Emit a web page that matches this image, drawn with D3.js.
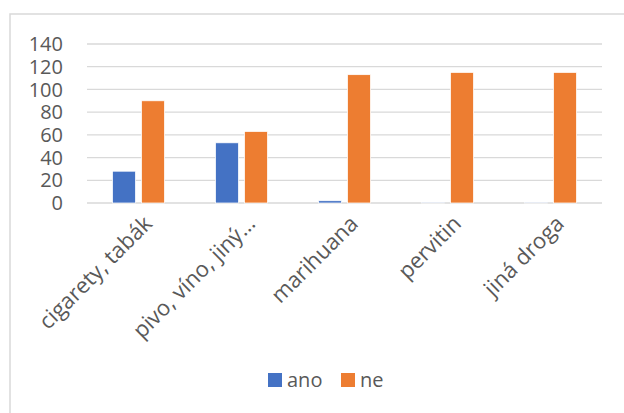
<!DOCTYPE html>
<html>
<head>
<meta charset="utf-8">
<script src="https://cdn.jsdelivr.net/npm/d3@7"></script>
<style>
  body { margin: 0; background: #fff; }
  svg { display: block; font-family: "Open Sans", sans-serif; }
</style>
</head>
<body>
<svg id="chart"></svg>
<script>
// kategorie a hodnoty
const kategorie = ["cigarety, tabák", "pivo, víno, jiný…", "marihuana", "pervitin", "jiná droga"];
const serie = ["ano", "ne"];
const ano = [28, 53, 2, 0.3, 0.3];
const ne = [90, 63, 113, 115, 115];
const tickHodnoty = [0, 20, 40, 60, 80, 100, 120, 140];
const barvy = ["#4472c4", "#ed7d31"];

const width = 624, height = 413;
const svg = d3.select("#chart").attr("width", width).attr("height", height);

// rámeček grafu
svg.append("rect")
  .attr("x", 10).attr("y", 14)
  .attr("width", 700).attr("height", 500)
  .attr("fill", "none")
  .attr("stroke", "#d9d9d9")
  .attr("stroke-width", 1.5);

const plot = { left: 87, right: 602, top: 44, bottom: 203 };

const x = d3.scaleBand()
  .domain(kategorie)
  .range([plot.left, plot.right]);

// dva sloupce uprostřed kategorie
const sirkaSkupiny = 52;
const x1 = d3.scaleBand()
  .domain(serie)
  .range([(x.bandwidth() - sirkaSkupiny) / 2, (x.bandwidth() + sirkaSkupiny) / 2])
  .paddingInner(0.207);

const y = d3.scaleLinear()
  .domain([0, 140])
  .range([plot.bottom, plot.top]);

// mřížka
svg.append("g")
  .selectAll("line")
  .data(tickHodnoty)
  .join("line")
  .attr("x1", plot.left).attr("x2", plot.right)
  .attr("y1", d => y(d)).attr("y2", d => y(d))
  .attr("stroke", "#d9d9d9")
  .attr("stroke-width", 1.3);

// popisky osy y
svg.append("g")
  .selectAll("text")
  .data(tickHodnoty)
  .join("text")
  .attr("x", 63)
  .attr("y", d => y(d))
  .attr("dy", "0.36em")
  .attr("text-anchor", "end")
  .attr("fill", "#595959")
  .attr("font-size", "20px")
  .text(d => d);

// sloupce
const data = kategorie.map((k, i) => ({ k, hodnoty: [ano[i], ne[i]] }));
const skupiny = svg.append("g")
  .selectAll("g")
  .data(data)
  .join("g")
  .attr("transform", d => `translate(${x(d.k)},0)`);

skupiny.selectAll("rect")
  .data(d => d.hodnoty.map((v, j) => ({ s: serie[j], v, j })))
  .join("rect")
  .attr("x", d => x1(d.s))
  .attr("width", x1.bandwidth())
  .attr("y", d => y(d.v))
  .attr("height", d => y(0) - y(d.v))
  .attr("fill", d => barvy[d.j])
  .attr("stroke", "#fff")
  .attr("stroke-width", 0.75);

// popisky kategorií (otočené)
svg.append("g")
  .selectAll("text")
  .data(kategorie)
  .join("text")
  .attr("transform", d => `translate(${x(d) + x.bandwidth() / 2 + 15},${plot.bottom + 22}) rotate(-45)`)
  .attr("text-anchor", "end")
  .attr("fill", "#595959")
  .attr("font-size", "22px")
  .text(d => d);

// legenda
const legenda = svg.append("g");
const legX = [268, 341];
serie.forEach((s, i) => {
  legenda.append("rect")
    .attr("x", legX[i]).attr("y", 373)
    .attr("width", 14).attr("height", 14)
    .attr("fill", barvy[i]);
  legenda.append("text")
    .attr("x", legX[i] + 19).attr("y", 380)
    .attr("dy", "0.36em")
    .attr("fill", "#595959")
    .attr("font-size", "20px")
    .text(s);
});
</script>
</body>
</html>
